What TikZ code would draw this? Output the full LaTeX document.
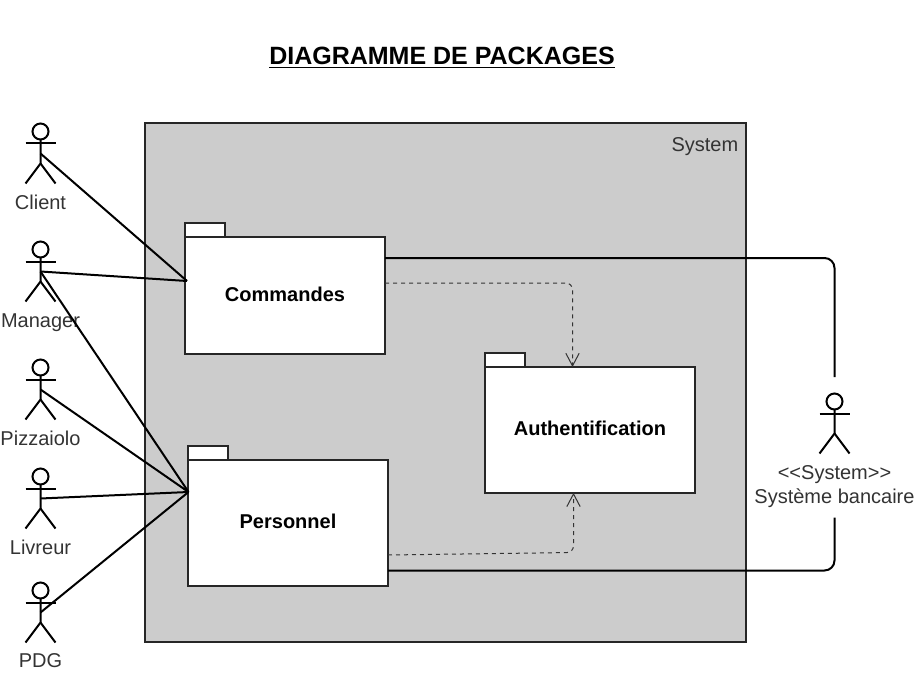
\documentclass[tikz,border=0pt]{standalone}
\usepackage{fontspec}
\setmainfont{Liberation Sans}
\usetikzlibrary{arrows.meta}
\definecolor{sysgrey}{HTML}{CCCCCC}
\definecolor{labelgrey}{HTML}{333333}
\tikzset{
  sysbox/.style={draw=black!85,line width=1.5pt,outer sep=0pt,fill=sysgrey,anchor=north west,inner sep=0pt,minimum width=450.4pt,minimum height=389pt},
  pkgbody/.style={draw=black!85,line width=1.5pt,outer sep=0pt,fill=white,anchor=north west,inner sep=0pt,text height=11pt,text depth=2pt,font=\bfseries\fontsize{15}{18}\selectfont},
  pkgtab/.style={draw=black!85,line width=1.5pt,outer sep=0pt,fill=white,anchor=south west,inner sep=0pt,minimum width=30pt,minimum height=10.5pt},
  actorlabel/.style={text=labelgrey,font=\fontsize{15}{18.4}\selectfont,align=center,inner sep=0pt,anchor=base},
  assoc/.style={draw=black,line width=1.5pt},
  dep/.style={draw=black!80,line width=0.75pt,dash pattern=on 3pt off 3pt,rounded corners=5pt,-{Straight Barb[length=9.5pt,width=10pt,line width=0.75pt]}},
  stick/.style={draw=black,line width=1.5pt}
}
\begin{document}
\begin{tikzpicture}[x=0.75pt,y=-0.75pt]
\useasboundingbox (0,0) rectangle (915,674);
\node[font=\bfseries\fontsize{18.75}{22}\selectfont,inner sep=0pt] (title) at (442,57.5) {\underline{DIAGRAMME DE PACKAGES}};

\node[sysbox] (sys) at (145.3,123.5) {};
\node[actorlabel,anchor=base east] (syslabel) at (738.5,151.5) {System};

\node[pkgtab] (cmdtab) at (185,237) {};
\node[pkgbody,minimum width=150pt,minimum height=87.4pt] (cmd) at (185,237) {Commandes};
\node[pkgtab] (pertab) at (188,460) {};
\node[pkgbody,minimum width=150pt,minimum height=94.4pt] (per) at (188,460) {Personnel};
\node[pkgtab] (authtab) at (485,367) {};
\node[pkgbody,minimum width=157.5pt,minimum height=94.4pt] (auth) at (485,367) {Authentification};

% actors
\foreach \n/\x/\y in {client/40.5/123.5,manager/40.5/241.5,pizza/40.5/359.5,livreur/40.5/468.5,pdg/40.5/582.5,bank/834.5/393.5}{
  \node[draw=black,circle,line width=1.5pt,outer sep=0pt,minimum size=12pt,inner sep=0pt,anchor=north] (\n head) at (\x,\y) {};
  \coordinate (\n hip) at (\x,\y+40);
  \coordinate (\n mid) at (\x,\y+30);
  \draw[stick] (\n head.south) -- (\n hip) -- (\x-15,\y+60);
  \draw[stick] (\n hip) -- (\x+15,\y+60);
  \draw[stick] (\x-15,\y+20) -- (\x+15,\y+20);
}
\node[actorlabel] (clientlabel) at (40.5,209.7) {Client};
\node[actorlabel] (managerlabel) at (40.5,327.7) {Manager};
\node[actorlabel] (pizzalabel) at (40.5,445.5) {Pizzaiolo};
\node[actorlabel] (livreurlabel) at (40.5,554.5) {Livreur};
\node[actorlabel] (pdglabel) at (40.5,667.5) {PDG};
\node[actorlabel] (banklabel1) at (834.5,479) {<{}<System>{}>};
\node[actorlabel] (banklabel2) at (834.5,503.5) {Système bancaire};

% connectors
\coordinate (cmdin) at (187,281);
\coordinate (perin) at (188.5,492);
\draw[assoc] (clientmid) -- (cmdin);
\draw[assoc] (managermid) -- (cmdin);
\draw[assoc] (managermid) -- (perin);
\draw[assoc] (pizzamid) -- (perin);
\draw[assoc] (livreurmid) -- (perin);
\draw[assoc] (pdgmid) -- (perin);

\coordinate (bankup) at (834.5,377);
\coordinate (bankdown) at (834.5,517.5);
\draw[assoc,rounded corners=7.5pt] (cmd.north east |- 0,258) -- (834.5,258) -- (bankup);
\draw[assoc,rounded corners=7.5pt] (per.north east |- 0,570.5) -- (834.5,570.5) -- (bankdown);

\draw[dep] (cmd.north east |- 0,283) -- (572.5,283) -- (auth.north -| 572.5,0);
\draw[dep] (per.north east |- 0,555) -- (573.5,552.5) -- (auth.south -| 573.5,0);
\end{tikzpicture}
\end{document}
